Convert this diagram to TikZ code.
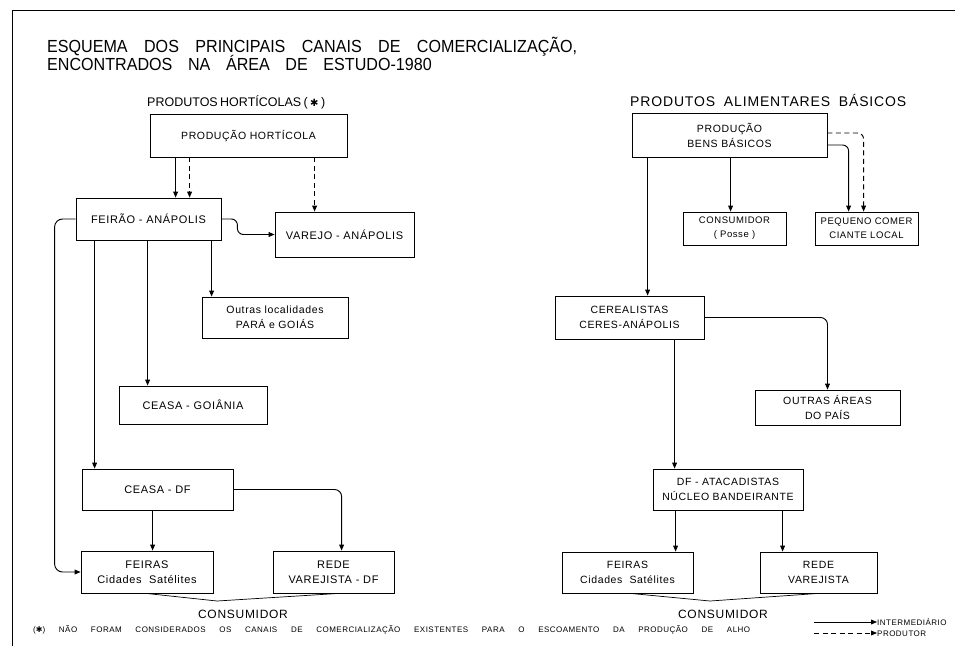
\documentclass[tikz,border=0pt]{standalone}
\usepackage{fontspec}
\setmainfont{Liberation Sans}
\newfontfamily\lett[LetterSpace=6]{Liberation Sans}
\newfontfamily\dvs{DejaVu Sans}
\usetikzlibrary{arrows.meta,calc}
\newcommand{\heavyast}{{\dvs\char"2731}}
\begin{document}
\begin{tikzpicture}[x=1pt,y=-1pt,
  box/.style={draw=black, line width=0.8pt, inner sep=0pt, align=center,
    font=\lett\fontsize{10.5}{15}\selectfont},
  sbox/.style={box, font=\lett\fontsize{9.5}{14}\selectfont},
  conn/.style={line width=0.95pt, -{Triangle[length=6pt,width=4.8pt]}},
  dconn/.style={conn, dash pattern=on 5pt off 3.5pt},
  plain/.style={line width=0.7pt},
  lbl/.style={inner sep=0pt, anchor=base west},
]
\useasboundingbox (0,0) rectangle (963,646);
\fill[white] (0,0) rectangle (963,646);
% frame
\draw[line width=0.8pt] (12,646) -- (12,10) -- (955,10);

% titles
\node[lbl, font=\fontsize{17.5}{20}\selectfont] (t1) at (47,52)
  {\scalebox{0.92}[1]{\makebox[576pt][s]{ESQUEMA DOS PRINCIPAIS CANAIS DE COMERCIALIZAÇÃO,}}};
\node[lbl, font=\fontsize{17.5}{20}\selectfont] (t2) at (47,70)
  {\scalebox{0.92}[1]{\makebox[418pt][s]{ENCONTRADOS NA ÁREA DE ESTUDO-1980}}};
\node[lbl, font=\fontsize{12.5}{16}\selectfont] (hL) at (147,106)
  {\makebox[178pt][s]{PRODUTOS HORTÍCOLAS ( {\fontsize{10}{12}\selectfont\heavyast} )}};
\node[lbl, font=\lett\fontsize{14}{16}\selectfont] (hR) at (630,106)
  {\makebox[276pt][s]{PRODUTOS ALIMENTARES BÁSICOS}};

% left boxes
\node[box, minimum width=197pt, minimum height=43pt] (prodh) at (248.5,135.5) {PRODUÇÃO HORTÍCOLA};
\node[box, minimum width=145pt, minimum height=42pt, font=\lett\fontsize{11}{15}\selectfont] (feirao) at (148.5,219) {FEIRÃO - ANÁPOLIS};
\node[box, minimum width=139pt, minimum height=45pt, font=\lett\fontsize{11}{15}\selectfont] (varejo) at (344.5,234.5) {VAREJO - ANÁPOLIS};
\node[box, minimum width=146pt, minimum height=41pt] (outras) at (275,317.5) {Outras localidades\\PARÁ e GOIÁS};
\node[box, minimum width=148pt, minimum height=38pt, font=\lett\fontsize{11}{15}\selectfont] (ceasag) at (193,405) {CEASA - GOIÂNIA};
\node[box, minimum width=151pt, minimum height=41pt, font=\lett\fontsize{11}{15}\selectfont] (ceasadf) at (157.5,489.5) {CEASA - DF};
\node[box, minimum width=132pt, minimum height=42pt, font=\lett\fontsize{11}{15}\selectfont] (feirasL) at (147,572) {FEIRAS\\Cidades\ \ Satélites};
\node[box, minimum width=121pt, minimum height=42pt, font=\lett\fontsize{11}{15}\selectfont] (redeL) at (333.5,572) {REDE\\VAREJISTA - DF};
\node[lbl, anchor=base, font=\lett\fontsize{12}{14}\selectfont] (consL) at (243,618) {CONSUMIDOR};

% right boxes
\node[box, minimum width=195pt, minimum height=44pt] (prodb) at (729.5,135) {PRODUÇÃO\\BENS BÁSICOS};
\node[sbox, minimum width=103pt, minimum height=33pt] (consp) at (734.5,228.5) {CONSUMIDOR\\( Posse )};
\node[sbox, minimum width=103pt, minimum height=33pt] (peq) at (866.5,228.5) {PEQUENO COMER\\CIANTE LOCAL};
\node[box, minimum width=149pt, minimum height=43pt] (cer) at (629.5,317.5) {CEREALISTAS\\CERES-ANÁPOLIS};
\node[box, minimum width=145pt, minimum height=35pt] (outa) at (827.5,407.5) {OUTRAS ÁREAS\\DO PAÍS};
\node[box, minimum width=150pt, minimum height=41pt] (dfa) at (728,489.5) {DF - ATACADISTAS\\NÚCLEO BANDEIRANTE};
\node[box, minimum width=131pt, minimum height=41pt] (feirasR) at (627.5,572.5) {FEIRAS\\Cidades\ \ Satélites};
\node[box, minimum width=117pt, minimum height=41pt] (redeR) at (818.5,572.5) {REDE\\VAREJISTA};
\node[lbl, anchor=base, font=\lett\fontsize{12}{14}\selectfont] (consR) at (723,618) {CONSUMIDOR};

% left connectors
\coordinate (a1) at ($(prodh.south west)+(26,0)$);
\coordinate (a2) at ($(prodh.south west)+(40,0)$);
\coordinate (a3) at ($(prodh.south west)+(165,0)$);
\draw[conn] (a1) -- (a1 |- feirao.north);
\draw[dconn] (a2) -- (a2 |- feirao.north);
\draw[dconn] (a3) -- (a3 |- varejo.north);
\draw[conn, rounded corners=6pt] (feirao.east) -- ++(16,0) |- (varejo.west);
\draw[conn, rounded corners=8pt] (feirao.west) -- ++(-21,0) |- (feirasL.west);
\coordinate (f1) at ($(feirao.south west)+(19,0)$);
\coordinate (f2) at ($(feirao.south west)+(72,0)$);
\coordinate (f3) at ($(feirao.south west)+(136,0)$);
\draw[conn] (f1) -- (f1 |- ceasadf.north);
\draw[conn] (f2) -- (f2 |- ceasag.north);
\draw[conn] (f3) -- (f3 |- outras.north);
\coordinate (d1) at ($(ceasadf.south west)+(71,0)$);
\draw[conn] (d1) -- (d1 |- feirasL.north);
\coordinate (d2) at ($(redeL.north west)+(69,0)$);
\draw[conn, rounded corners=7pt] (ceasadf.east) -| (d2);
\coordinate (vL1) at ($(feirasL.south)+(-1,0)$);
\coordinate (vL2) at ($(redeL.south)+(5.5,0)$);
\coordinate (tipL) at (217,601);
\draw[plain] (vL1) -- (tipL) -- (vL2);

% right connectors
\coordinate (b0) at ($(prodb.south west)+(16,0)$);
\draw[conn] (b0) -- (b0 |- cer.north);
\coordinate (b3) at ($(prodb.south west)+(99,0)$);
\draw[conn] (b3) -- (b3 |- consp.north);
\coordinate (b1) at ($(prodb.east)+(0,10)$);
\coordinate (b2) at ($(prodb.east)+(0,-2)$);
\coordinate (p1) at ($(peq.north west)+(34,0)$);
\coordinate (p2) at ($(peq.north west)+(49,0)$);
\draw[conn, rounded corners=6pt] (b1) -| (p1);
\draw[dconn, rounded corners=6pt] (b2) -| (p2);
\draw[conn, rounded corners=7pt] (cer.east) -| (outa.north);
\coordinate (c1) at ($(cer.south west)+(120,0)$);
\draw[conn] (c1) -- (c1 |- dfa.north);
\coordinate (e1) at ($(dfa.south west)+(23,0)$);
\coordinate (e2) at ($(dfa.south west)+(130,0)$);
\draw[conn] (e1) -- (e1 |- feirasR.north);
\draw[conn] (e2) -- (e2 |- redeR.north);
\coordinate (vR1) at ($(feirasR.south)+(3,0)$);
\coordinate (vR2) at ($(redeR.south)+(0,0)$);
\coordinate (tipR) at (710,601);
\draw[plain] (vR1) -- (tipR) -- (vR2);

% footnote and legend
\node[lbl, font=\lett\fontsize{8}{9}\selectfont] (foot) at (33,632)
  {\makebox[717pt][s]{(\heavyast) NÃO FORAM CONSIDERADOS OS CANAIS DE COMERCIALIZAÇÃO EXISTENTES PARA O ESCOAMENTO DA PRODUÇÃO DE ALHO}};
\node[lbl, font=\lett\fontsize{8}{9}\selectfont] (lgI) at (877,625) {INTERMEDIÁRIO};
\node[lbl, font=\lett\fontsize{8}{9}\selectfont] (lgP) at (877,636) {PRODUTOR};
\coordinate (li0) at (814,622);
\coordinate (lp0) at (814,633);
\draw[conn, line width=0.8pt] (li0) -- (li0 -| lgI.west);
\draw[dconn, line width=0.8pt] (lp0) -- (lp0 -| lgP.west);
\end{tikzpicture}
\end{document}
